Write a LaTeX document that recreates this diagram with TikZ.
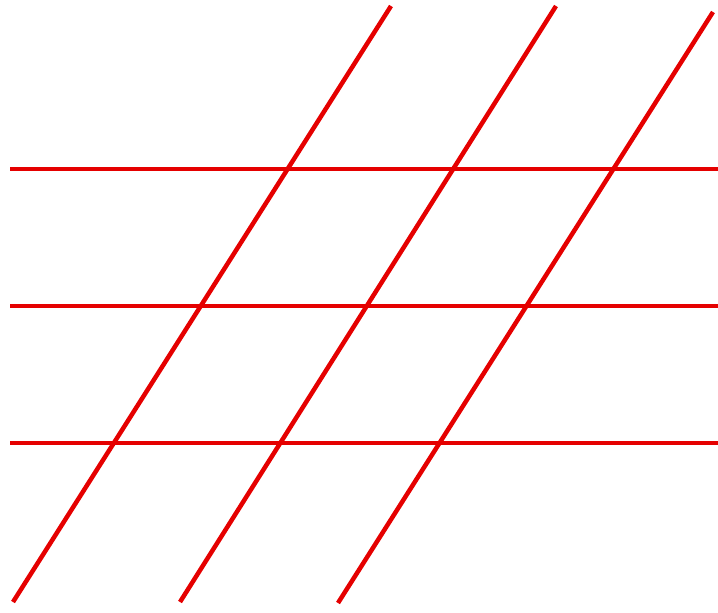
\documentclass[tikz,border=0pt]{standalone}
\usepackage{tikz}
\tikzset{
    gridline/.style={draw=red!90!black, line width=4.5pt}
}

\begin{document}
\begin{tikzpicture}[x=1pt, y=-1pt]
    \useasboundingbox (0,0) rectangle (718,613);

    % horizontal lines
    \draw[gridline] (10,169) -- (718,169);
    \draw[gridline] (10,306) -- (718,306);
    \draw[gridline] (10,443) -- (718,443);

    % slanted lines
    \draw[gridline] (13,602) -- (391,6);
    \draw[gridline] (180,602) -- (556,6);
    \draw[gridline] (338,603) -- (713,12);

\end{tikzpicture}
\end{document}
